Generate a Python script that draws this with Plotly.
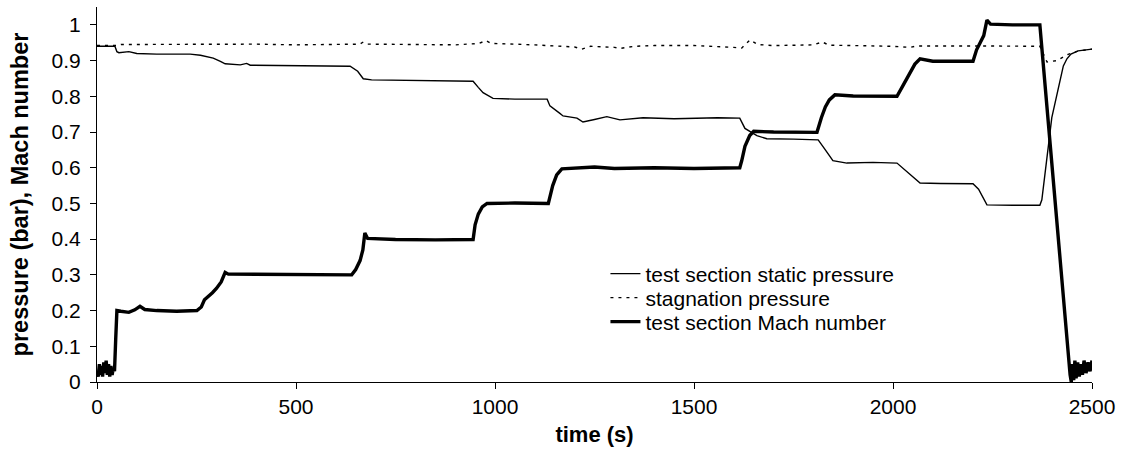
import plotly.graph_objects as go

# ---- data ----
static_t = [0, 45, 50, 55, 80, 100, 150, 234, 260, 292, 310, 322, 360, 376, 385, 500, 600, 636, 655, 669,
            690, 800, 900, 945, 958, 970, 995, 1050, 1131, 1138, 1163, 1171, 1206, 1221, 1250, 1281, 1314,
            1372, 1450, 1500, 1560, 1615, 1628, 1658, 1683, 1750, 1812, 1830, 1849, 1884, 1950, 2010, 2040,
            2068, 2120, 2201, 2215, 2225, 2236, 2300, 2369, 2374, 2388, 2399, 2413, 2420, 2428, 2437, 2447,
            2465, 2500]
static_p = [0.940, 0.940, 0.925, 0.922, 0.925, 0.920, 0.918, 0.918, 0.915, 0.907, 0.898, 0.891, 0.888,
            0.892, 0.887, 0.886, 0.886, 0.884, 0.870, 0.849, 0.846, 0.845, 0.844, 0.842, 0.825, 0.810,
            0.794, 0.792, 0.792, 0.773, 0.752, 0.745, 0.739, 0.728, 0.735, 0.743, 0.734, 0.740, 0.737,
            0.738, 0.740, 0.739, 0.710, 0.690, 0.681, 0.680, 0.678, 0.650, 0.620, 0.613, 0.615, 0.613,
            0.585, 0.557, 0.556, 0.555, 0.540, 0.520, 0.496, 0.495, 0.495, 0.510, 0.645, 0.740, 0.810,
            0.850, 0.885, 0.905, 0.918, 0.927, 0.932]

stag_t = [0, 50, 60, 200, 300, 400, 500, 600, 660, 669, 680, 800, 900, 960, 977, 990, 1100, 1200, 1218,
          1240, 1300, 1314, 1350, 1400, 1500, 1600, 1620, 1641, 1660, 1700, 1800, 1822, 1840, 1900, 2000,
          2043, 2060, 2200, 2369, 2387, 2412, 2437, 2452, 2465, 2500]
stag_p = [0.942, 0.942, 0.945, 0.946, 0.947, 0.946, 0.944, 0.944, 0.946, 0.952, 0.946, 0.945, 0.944,
          0.948, 0.956, 0.948, 0.944, 0.938, 0.932, 0.940, 0.937, 0.934, 0.940, 0.942, 0.942, 0.937,
          0.935, 0.958, 0.945, 0.942, 0.944, 0.952, 0.943, 0.942, 0.940, 0.937, 0.941, 0.941, 0.940,
          0.896, 0.900, 0.916, 0.922, 0.927, 0.932]

mach_t = [0, 3, 6, 8, 11, 14, 17, 20, 23, 26, 29, 32, 35, 38, 41, 44, 47, 50, 60, 80, 95, 108, 120, 150,
          200, 251, 262, 270, 290, 300, 312, 322, 330, 400, 500, 600, 640, 650, 661, 668, 673, 680, 750,
          850, 945, 950, 958, 968, 980, 1050, 1134, 1145, 1155, 1168, 1250, 1300, 1400, 1500, 1615, 1620,
          1628, 1640, 1650, 1700, 1809, 1820, 1830, 1840, 1854, 1900, 2010, 2025, 2040, 2055, 2068, 2100,
          2201, 2210, 2219, 2228, 2236, 2245, 2300, 2369, 2445, 2448, 2451, 2454, 2457, 2460, 2464, 2468,
          2472, 2476, 2480, 2485, 2490, 2495, 2500]
mach_m = [0.03, 0.015, 0.05, 0.02, 0.045, 0.015, 0.055, 0.025, 0.06, 0.02, 0.05, 0.015, 0.045, 0.02,
          0.04, 0.03, 0.12, 0.20, 0.198, 0.195, 0.202, 0.212, 0.203, 0.200, 0.198, 0.200, 0.21, 0.23,
          0.25, 0.262, 0.28, 0.307, 0.302, 0.302, 0.300, 0.300, 0.300, 0.315, 0.34, 0.37, 0.417, 0.402,
          0.399, 0.398, 0.399, 0.44, 0.47, 0.49, 0.500, 0.501, 0.500, 0.55, 0.58, 0.597, 0.602, 0.598,
          0.600, 0.598, 0.600, 0.62, 0.66, 0.69, 0.702, 0.700, 0.699, 0.74, 0.77, 0.79, 0.804, 0.801,
          0.800, 0.83, 0.86, 0.89, 0.905, 0.898, 0.898, 0.93, 0.95, 0.97, 1.013, 1.002, 1.000, 1.000,
          0.02, 0.0, 0.05, 0.005, 0.06, 0.01, 0.055, 0.015, 0.05, 0.02, 0.06, 0.025, 0.055, 0.03, 0.06]

y_ticks = [0, 0.1, 0.2, 0.3, 0.4, 0.5, 0.6, 0.7, 0.8, 0.9, 1]
x_ticks = [0, 500, 1000, 1500, 2000, 2500]

FONT = "Liberation Sans, Arial, sans-serif"

fig = go.Figure()
fig.add_trace(go.Scatter(x=static_t, y=static_p, mode="lines", name="test section static pressure",
                         line=dict(color="black", width=1.4), legend="legend"))
fig.add_trace(go.Scatter(x=stag_t, y=stag_p, mode="lines", name="stagnation pressure",
                         line=dict(color="black", width=1.4, dash="3px,5px"), legend="legend2"))
fig.add_trace(go.Scatter(x=mach_t, y=mach_m, mode="lines", name="test section Mach number",
                         line=dict(color="black", width=3.4), legend="legend3"))

leg_common = dict(xref="paper", yref="paper", x=0.511, xanchor="left", yanchor="middle",
                  bgcolor="rgba(0,0,0,0)", borderwidth=0, font=dict(family=FONT, size=21, color="black"))

fig.update_layout(
    width=1121, height=452,
    margin=dict(l=97, r=29, t=7, b=70),
    paper_bgcolor="white", plot_bgcolor="white",
    font=dict(family=FONT, size=21, color="black"),
    showlegend=True,
    legend=dict(y=0.288, **leg_common),
    legend2=dict(y=0.224, **leg_common),
    legend3=dict(y=0.160, **leg_common),
    xaxis=dict(range=[0, 2500], tickvals=x_ticks, showline=True, linecolor="black", linewidth=1,
               ticks="outside", ticklen=6, tickcolor="black", showgrid=False, zeroline=False,
               tickfont=dict(family=FONT, size=21),
               title=dict(text="<b>time (s)</b>", font=dict(family=FONT, size=22), standoff=9)),
    yaxis=dict(range=[0, 1.05], tickvals=y_ticks, showline=True, linecolor="black", linewidth=1,
               ticks="outside", ticklen=6, tickcolor="black", showgrid=False, zeroline=False,
               tickfont=dict(family=FONT, size=21), ticklabelstandoff=5,
               title=dict(text="<b>pressure (bar), Mach number</b>", font=dict(family=FONT, size=23.5),
                          standoff=16)),
)

fig.write_html("out.html")
